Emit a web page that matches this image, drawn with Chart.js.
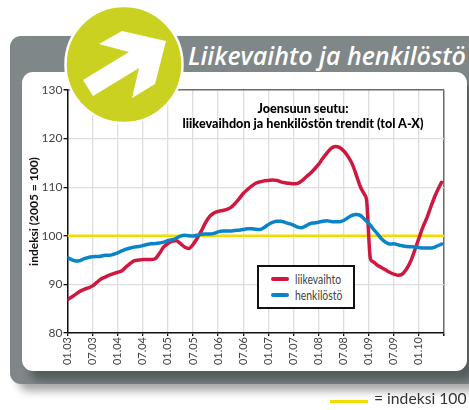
<!DOCTYPE html>
<html lang="fi">
<head>
<meta charset="utf-8">
<title>Liikevaihto ja henkilöstö</title>
<script src="https://cdn.jsdelivr.net/npm/chart.js@4"></script>
<style>
  html, body { margin: 0; padding: 0; background: #fff; }
  body { width: 469px; height: 410px; position: relative; overflow: hidden; font-family: Lato, sans-serif; }
  .frame { position: absolute; left: 10px; top: 36px; width: 500px; height: 348px; background: #7f8788; border-radius: 11px; overflow: hidden; box-shadow: 8px 7px 8px rgba(0,0,0,0.35); }
  .panel { position: absolute; left: 12px; top: 36px; width: 445px; height: 299px; background: #fff; border-radius: 11px; box-shadow: 8px 10px 8px #555d5e; }
  .heading { position: absolute; left: 188px; top: 38px; color: #fff; font: italic 600 25px "Open Sans", sans-serif; white-space: nowrap; }
  canvas { position: absolute; left: 0; top: 0; }
  .badge { position: absolute; left: 0; top: 0; }
  .inner-title { position: absolute; left: 153px; top: 100px; width: 300px; text-align: center; color: #000; font-weight: 900; font-size: 14px; line-height: 15px; white-space: nowrap; transform: scaleX(0.9); }
  .legend { position: absolute; left: 257px; top: 265px; width: 94px; height: 40px; border: 2px solid #111; background: #fff; color: #444; font-size: 13px; }
  .legend div { position: absolute; left: 12px; white-space: nowrap; line-height: 14px; }
  .legend i { position: absolute; left: 0; top: 5px; width: 18px; height: 3.5px; border-radius: 2px; }
  .legend span { position: absolute; left: 24px; top: 0; transform: scaleX(0.8); transform-origin: left center; }
  .note { position: absolute; left: 330px; top: 392px; width: 139px; color: #333; font-size: 16px; line-height: 18px; white-space: nowrap; }
  .note i { position: absolute; left: 0; top: 8px; width: 38px; height: 3px; background: #f2dc00; }
  .note span { position: absolute; left: 44px; top: -3px; transform: scaleX(0.98); transform-origin: left center; }
</style>
</head>
<body>
<div class="frame"><div class="panel"></div></div>
<div class="heading">Liikevaihto ja henkilöstö</div>
<canvas id="chart" width="469" height="410"></canvas>
<svg class="badge" width="200" height="130">
  <circle cx="124" cy="64.5" r="58.5" fill="#cbd120" stroke="#fff" stroke-width="2.5"/>
  <polygon fill="#fff" points="122,31 166,41 155,84 132,98 139,68 93,96 83,80 129,52 99,44"/>
</svg>
<div class="inner-title">Joensuun seutu:<br>liikevaihdon ja henkilöstön trendit (tol A-X)</div>
<div class="legend" id="legend"></div>
<div class="note"><i></i><span>= indeksi 100</span></div>

<script>
// kuukausia tammikuusta 2003 (01.03 = 0)
const months = [
  0, 1, 2, 3, 4, 5, 6, 7, 8, 9, 10, 11,
  12, 13, 14, 15, 16, 17, 18, 19, 20, 21, 22, 23,
  24, 25, 26, 27, 28, 29, 30, 31, 32, 33, 34, 35,
  36, 37, 38, 39, 40, 41, 42, 43, 44, 45, 46, 47,
  48, 49, 50, 51, 52, 53, 54, 55, 56, 57, 58, 59,
  60, 61, 62, 63, 64, 65, 66, 67, 68, 69, 70, 71,
  71.5, 72.4, 73, 74, 75, 76, 77, 78, 79, 80, 81, 82,
  83, 84, 85, 86, 87, 88, 89.4
];

const liikevaihto = [
  86.9, 87.4, 88.0, 88.6, 89.0, 89.3, 89.7, 90.4, 91.1, 91.5, 91.9, 92.2,
  92.5, 92.8, 93.6, 94.3, 94.9, 95.0, 95.1, 95.1, 95.1, 95.3, 96.4, 97.7,
  98.4, 98.9, 99.0, 98.4, 97.7, 97.4, 98.2, 99.5, 101.0, 102.7, 104.0, 104.7,
  105.0, 105.2, 105.4, 105.8, 106.6, 107.6, 108.7, 109.5, 110.2, 110.8, 111.1, 111.3,
  111.4, 111.5, 111.4, 111.1, 110.9, 110.8, 110.7, 110.8, 111.3, 112.1, 112.8, 113.7,
  114.7, 115.9, 117.0, 118.0, 118.4, 118.2, 117.5, 116.4, 114.9, 112.6, 110.1, 108.5,
  107.3, 95.3, 94.7, 94.0, 93.5, 93.0, 92.5, 92.1, 91.9, 92.1, 93.1, 94.7,
  97.0, 99.5, 101.9, 103.9, 106.3, 108.5, 111.0
];

const henkilosto = [
  95.5, 95.1, 94.8, 94.9, 95.3, 95.55, 95.7, 95.75, 95.8, 96.0, 96.0, 96.2,
  96.5, 96.9, 97.25, 97.5, 97.7, 97.8, 98.0, 98.2, 98.35, 98.4, 98.5, 98.7,
  99.0, 99.2, 99.5, 99.95, 100.1, 100.0, 99.95, 100.1, 100.3, 100.35, 100.35, 100.5,
  100.8, 101.0, 101.0, 101.0, 101.1, 101.15, 101.3, 101.45, 101.45, 101.35, 101.3, 101.7,
  102.3, 102.75, 103.0, 103.0, 102.75, 102.5, 102.2, 101.8, 101.65, 102.05, 102.5, 102.65,
  102.8, 103.0, 103.1, 102.95, 102.9, 102.9, 103.15, 103.7, 104.2, 104.4, 104.2, 103.4,
  103.0, 102.2, 101.5, 100.5, 99.45, 98.7, 98.3, 98.35, 98.15, 97.95, 97.8, 97.75,
  97.7, 97.6, 97.5, 97.5, 97.5, 97.75, 98.3
];

const tickLabels = [
  '01.03', '07.03', '01.04', '07.04', '01.05', '07.05', '01.06', '07.06',
  '01.07', '07.07', '01.08', '07.08', '01.09', '07.09', '01.10', ''
];

const referenceLevel = 100;
const xMax = 90;

const seriesNames = ['liikevaihto', 'henkilöstö'];
const seriesColors = ['#d0173f', '#0a84c8'];

const toPoints = values => values.map((v, i) => ({ x: months[i], y: v }));

const lineStyle = {
  borderWidth: 3.5,
  pointRadius: 0,
  fill: false,
  cubicInterpolationMode: 'monotone',
  borderCapStyle: 'round',
  borderJoinStyle: 'round'
};

const axisFont = { family: 'Lato, sans-serif', size: 11 };

const chart = new Chart(document.getElementById('chart'), {
  type: 'line',
  data: {
    datasets: [
      { ...lineStyle, label: seriesNames[0], data: toPoints(liikevaihto), borderColor: seriesColors[0], order: 2 },
      { ...lineStyle, label: seriesNames[1], data: toPoints(henkilosto), borderColor: seriesColors[1], order: 1 },
      {
        label: 'indeksi 100',
        data: [{ x: 0, y: referenceLevel }, { x: xMax, y: referenceLevel }],
        borderColor: '#f2dc00',
        borderWidth: 2.5,
        pointRadius: 0,
        order: 3
      }
    ]
  },
  options: {
    responsive: false,
    animation: false,
    layout: { padding: { left: 27, top: 90, right: 25, bottom: 0 } },
    plugins: { legend: { display: false }, title: { display: false }, tooltip: { enabled: false } },
    scales: {
      x: {
        type: 'linear',
        min: 0,
        max: xMax,
        afterBuildTicks: axis => {
          axis.ticks = tickLabels.map((_, i) => ({ value: i * 6 }));
        },
        afterFit: axis => { axis.height = 77; },
        border: { color: '#111', width: 1.5 },
        grid: {
          color: ctx => (ctx.tick && ctx.tick.value === xMax ? '#6b6b6b' : '#dedede'),
          lineWidth: ctx => (ctx.tick && ctx.tick.value === xMax ? 1.5 : 1.3),
          tickColor: '#111',
          tickLength: 3
        },
        ticks: {
          autoSkip: false,
          minRotation: 90,
          maxRotation: 90,
          padding: 1,
          color: '#444',
          font: axisFont,
          callback: value => tickLabels[value / 6]
        }
      },
      y: {
        min: 80,
        max: 130,
        afterFit: axis => { axis.width = 40.5; },
        border: { color: '#111', width: 1.5 },
        grid: {
          color: ctx => (ctx.tick && ctx.tick.value === 130 ? '#6b6b6b' : '#dedede'),
          lineWidth: ctx => (ctx.tick && ctx.tick.value === 130 ? 1.5 : 1.3),
          tickColor: '#111',
          tickLength: 4
        },
        ticks: { stepSize: 10, padding: 1, color: '#444', font: { family: axisFont.family, size: 12 } },
        title: {
          display: true,
          text: 'indeksi (2005 = 100)',
          color: '#111',
          padding: 0,
          font: { family: axisFont.family, size: 12, weight: 'bold' }
        }
      }
    }
  }
});

// selite samoista sarjoista
const legendBox = document.getElementById('legend');
seriesNames.forEach((name, i) => {
  const row = document.createElement('div');
  row.style.top = (i === 0 ? 5 : 21) + 'px';
  const swatch = document.createElement('i');
  swatch.style.background = seriesColors[i];
  const text = document.createElement('span');
  text.textContent = name;
  row.appendChild(swatch);
  row.appendChild(text);
  legendBox.appendChild(row);
});
</script>
</body>
</html>
